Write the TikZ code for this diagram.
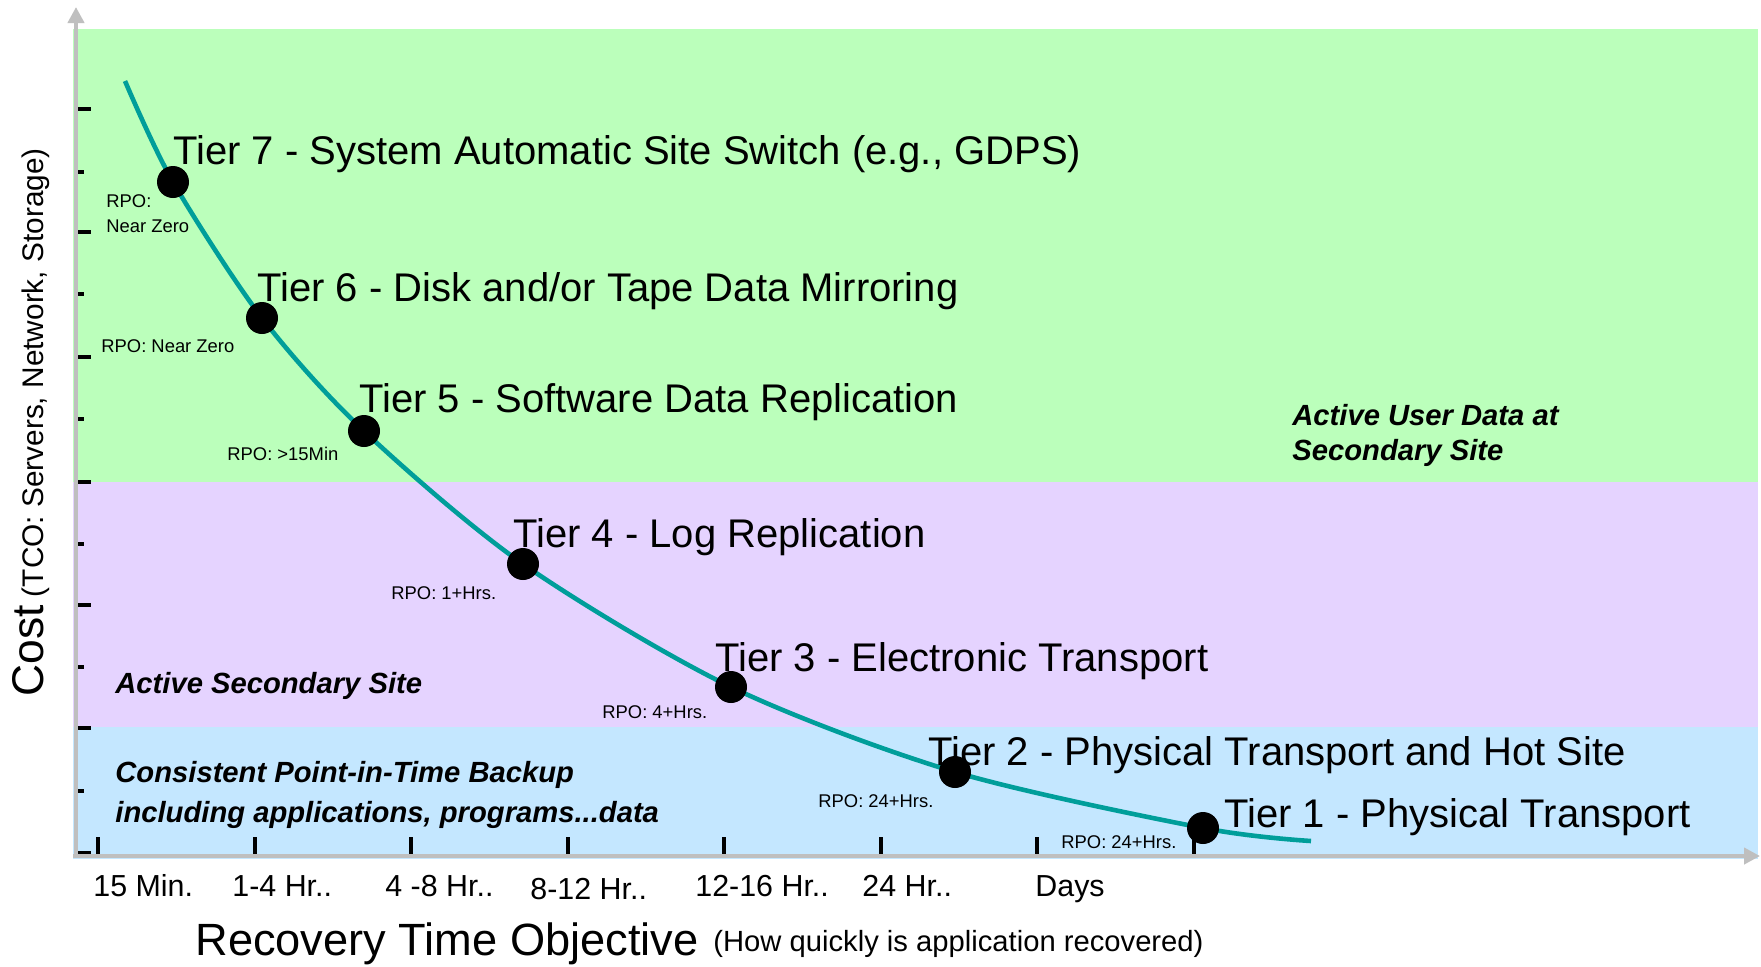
\documentclass[tikz,border=0pt]{standalone}
\usepackage{fontspec}
\setmainfont{Liberation Sans}
\usetikzlibrary{arrows.meta}
\definecolor{zgreen}{RGB}{187,255,187}
\definecolor{zpurple}{RGB}{229,211,255}
\definecolor{zblue}{RGB}{196,231,255}
\definecolor{zteal}{RGB}{0,158,154}
\definecolor{zgray}{RGB}{191,191,191}
\begin{document}
\begin{tikzpicture}[x=0.5pt,y=-0.5pt,
  tierlbl/.style={anchor=base west,inner sep=0pt,font=\fontsize{20pt}{24pt}\selectfont},
  rpolbl/.style={anchor=base west,inner sep=0pt,font=\fontsize{9.2pt}{11pt}\selectfont},
  regionlbl/.style={anchor=base west,inner sep=0pt,font=\fontsize{14.6pt}{18pt}\selectfont\bfseries\itshape},
  ticklbl/.style={anchor=base west,inner sep=0pt,font=\fontsize{15.2pt}{18pt}\selectfont},
  dot/.style={circle,fill=black,inner sep=0pt,minimum size=16pt},
  axisline/.style={draw=zgray,line width=2pt,-{Triangle[length=8pt,width=8pt]}},
  tickmark/.style={line width=2pt,black},
  curve/.style={draw=zteal,line width=2.3pt}]
\useasboundingbox (0,0) rectangle (1761,966);
\fill[white] (0,0) rectangle (1761,966);
% bands
\fill[zgreen] (73,29) rectangle (1758,482);
\fill[zpurple] (73,482) rectangle (1758,727);
\fill[zblue] (73,727) rectangle (1758,859);
% ticks
\foreach \y in {109,232,357,482,605,728,853} \draw[tickmark] (78,\y) -- (91,\y);
\foreach \y in {172,294,419,544,667,791} \draw[tickmark] (78,\y) -- (84,\y);
\foreach \x in {98,254.5,411,567.5,724,880.5,1037,1193.5} \draw[tickmark] (\x,837) -- (\x,856);
% axes
\draw[axisline] (76,858) -- (76,7);
\draw[axisline] (73,856) -- (1760,856);
% curve
\coordinate (c0) at (125,81);
\coordinate (p7) at (173,182);
\coordinate (p6) at (262,318);
\coordinate (p5) at (364,431);
\coordinate (p4) at (523,564);
\coordinate (p3) at (731,687);
\coordinate (p2) at (955,772);
\coordinate (p1) at (1203,828);
\coordinate (c8) at (1311,841);
\draw[curve] plot[smooth] coordinates {(c0) (p7) (p6) (p5) (p4) (p3) (p2) (p1) (c8)};
\node[dot] (t7) at (p7) {};
\node[dot] (t6) at (p6) {};
\node[dot] (t5) at (p5) {};
\node[dot] (t4) at (p4) {};
\node[dot] (t3) at (p3) {};
\node[dot] (t2) at (p2) {};
\node[dot] (t1) at (p1) {};
% tier labels
\node[tierlbl] (l7) at (173,164) {Tier 7 - System Automatic Site Switch (e.g., GDPS)};
\node[tierlbl] (l6) at (257,301) {Tier 6 - Disk and/or Tape Data Mirroring};
\node[tierlbl] (l5) at (359,412) {Tier 5 - Software Data Replication};
\node[tierlbl] (l4) at (513,547) {Tier 4 - Log Replication};
\node[tierlbl] (l3) at (715,671) {Tier 3 - Electronic Transport};
\node[tierlbl] (l2) at (928,765) {Tier 2 - Physical Transport and Hot Site};
\node[tierlbl] (l1) at (1224,827) {Tier 1 - Physical Transport};
% RPO labels
\node[rpolbl] (r7a) at (106,207) {RPO:};
\node[rpolbl] (r7b) at (106,232) {Near Zero};
\node[rpolbl] (r6) at (101,352) {RPO: Near Zero};
\node[rpolbl] (r5) at (227,460) {RPO: >15Min};
\node[rpolbl] (r4) at (391,599) {RPO: 1+Hrs.};
\node[rpolbl] (r3) at (602,718) {RPO: 4+Hrs.};
\node[rpolbl] (r2) at (818,807) {RPO: 24+Hrs.};
\node[rpolbl] (r1) at (1061,848) {RPO: 24+Hrs.};
% region labels
\node[regionlbl] (g1) at (1292,425) {Active User Data at};
\node[regionlbl] (g2) at (1292,460) {Secondary Site};
\node[regionlbl] (pa) at (115,693) {Active Secondary Site};
\node[regionlbl] (b1) at (115,782) {Consistent Point-in-Time Backup};
\node[regionlbl] (b2) at (115,822) {including applications, programs...data};
% x tick labels
\node[ticklbl] (x1) at (93,896) {15 Min.};
\node[ticklbl] (x2) at (232,896) {1-4 Hr..};
\node[ticklbl] (x3) at (385,896) {4 -8 Hr..};
\node[ticklbl] (x4) at (530,899) {8-12 Hr..};
\node[ticklbl] (x5) at (695,896) {12-16 Hr..};
\node[ticklbl] (x6) at (862,896) {24 Hr..};
\node[ticklbl] (x7) at (1035,896) {Days};
% axis titles
\node[anchor=base west,inner sep=0pt,font=\fontsize{22.6pt}{26pt}\selectfont] (xl) at (195,955) {Recovery Time Objective};
\node[anchor=base west,inner sep=0pt,font=\fontsize{14.6pt}{17pt}\selectfont] (xl2) at (713,951) {(How quickly is application recovered)};
\node[anchor=base west,inner sep=0pt,rotate=90] (yl) at (43,697) {{\fontsize{22.2pt}{26pt}\selectfont Cost}{\fontsize{14.9pt}{17pt}\selectfont\ (TCO: Servers, Network, Storage)}};
\end{tikzpicture}
\end{document}
